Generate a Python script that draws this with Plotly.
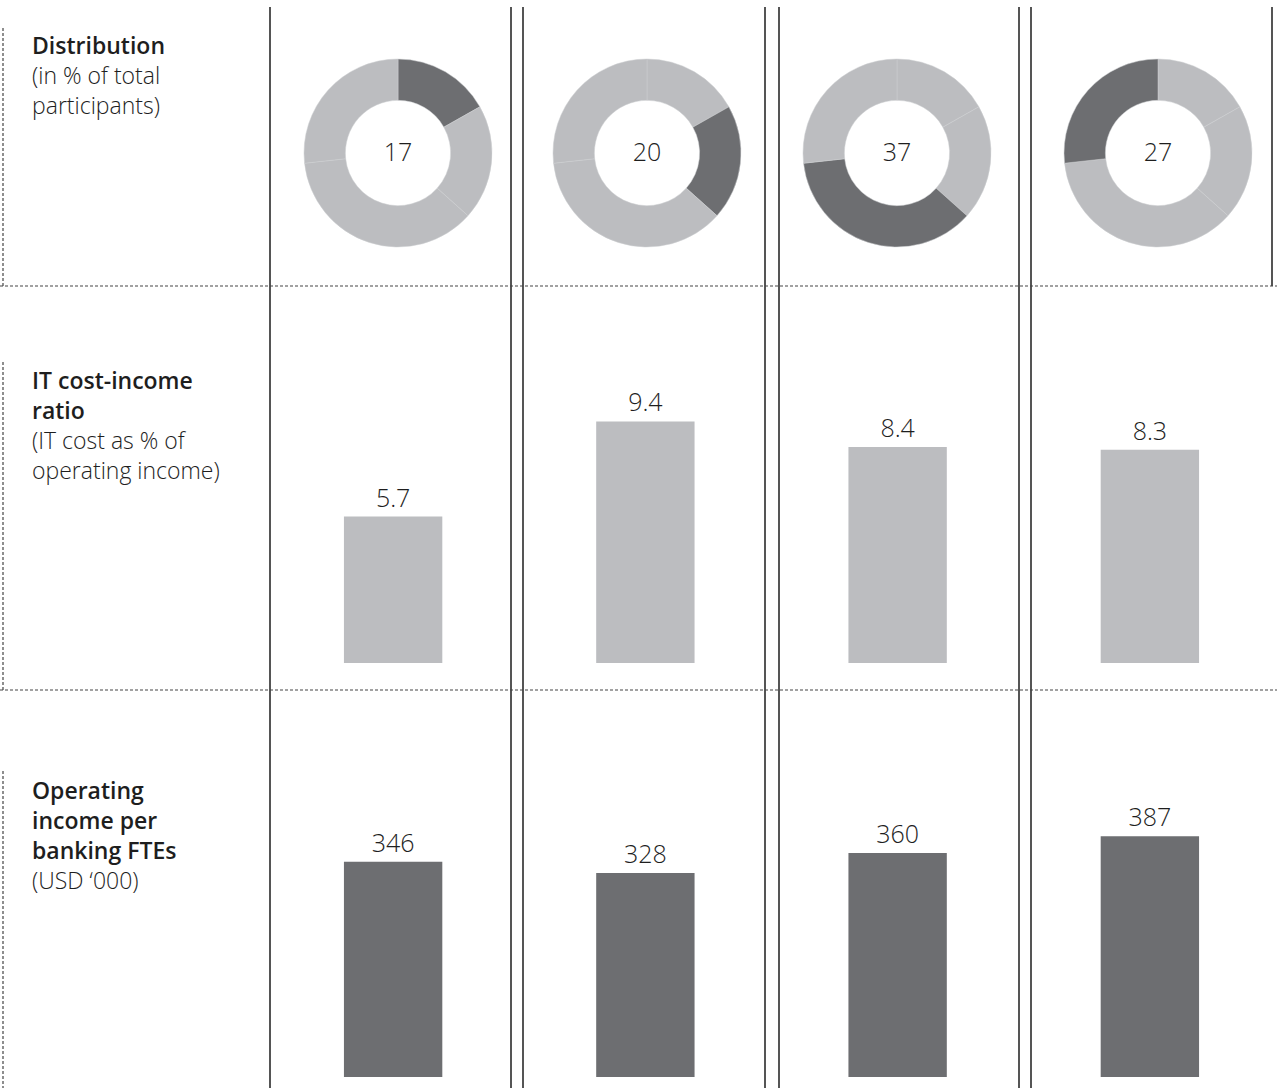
import plotly.graph_objects as go

W, H = 1277, 1088

# ---- data -------------------------------------------------------------
groups = ["Group 1", "Group 2", "Group 3", "Group 4"]
distribution = [17, 20, 37, 27]          # % of total participants
it_cost_income = [5.7, 9.4, 8.4, 8.3]    # IT cost as % of operating income
income_per_fte = [346, 328, 360, 387]    # USD '000

row_titles = ["Distribution", "IT cost-income<br>ratio", "Operating<br>income per<br>banking FTEs"]
row_notes = ["(in % of total<br>participants)", "(IT cost as % of<br>operating income)", "(USD ‘000)"]

# ---- styling ----------------------------------------------------------
DARK = "#6d6e71"
LIGHT = "#bcbdc0"
INK = "#1e1e1e"
RULE = "#555555"
FONT = "Open Sans"


def px(x):
    return x / W


def py(y):
    return 1 - y / H


fig = go.Figure()

# ---- donuts: each shows the full split with its own group highlighted --
donut_cx = [398, 647, 897, 1158]
donut_cy = 153
donut_r = 94
for i, cx in enumerate(donut_cx):
    colors = [DARK if j == i else LIGHT for j in range(len(distribution))]
    fig.add_trace(go.Pie(
        values=distribution,
        labels=groups,
        sort=False,
        direction="clockwise",
        rotation=0,
        hole=0.56,
        marker=dict(colors=colors, line=dict(color="#cdced0", width=0.5)),
        textinfo="none",
        hoverinfo="label+value",
        showlegend=False,
        domain=dict(x=[px(cx - donut_r), px(cx + donut_r)],
                    y=[py(donut_cy + donut_r), py(donut_cy - donut_r)]),
        title=dict(text=str(distribution[i]), position="middle center",
                   font=dict(family=FONT, size=25, color=INK, weight=300)),
    ))

# ---- bar rows ---------------------------------------------------------
x_domain = [px(267), px(1276)]

fig.add_trace(go.Bar(
    x=groups, y=it_cost_income, xaxis="x", yaxis="y",
    marker=dict(color=LIGHT, line=dict(width=0)),
    text=[f"{v:.1f}" for v in it_cost_income], textposition="outside",
    textfont=dict(family=FONT, size=25, color=INK, weight=300),
    cliponaxis=False, showlegend=False, hoverinfo="x+y",
))
fig.add_trace(go.Bar(
    x=groups, y=income_per_fte, xaxis="x2", yaxis="y2",
    marker=dict(color=DARK, line=dict(width=0)),
    text=[str(v) for v in income_per_fte], textposition="outside",
    textfont=dict(family=FONT, size=25, color=INK, weight=300),
    cliponaxis=False, showlegend=False, hoverinfo="x+y",
))

axis_off = dict(showgrid=False, zeroline=False, showline=False,
                showticklabels=False, ticks="", fixedrange=True)

# ---- rules ------------------------------------------------------------
shapes = []
solid = dict(color=RULE, width=2)
for x in [270, 511, 523, 765, 779, 1019, 1031]:
    shapes.append(dict(type="line", xref="paper", yref="paper",
                       x0=px(x), x1=px(x), y0=py(7), y1=py(H), line=solid))
shapes.append(dict(type="line", xref="paper", yref="paper",
                   x0=px(1272), x1=px(1272), y0=py(7), y1=py(286), line=solid))

dotted = dict(color="#444444", width=1.2, dash="3px,2px")
for y in [286, 690]:
    shapes.append(dict(type="line", xref="paper", yref="paper",
                       x0=0, x1=1, y0=py(y), y1=py(y), line=dotted))
for y0, y1 in [(28, 286), (362, 690), (771, H)]:
    shapes.append(dict(type="line", xref="paper", yref="paper",
                       x0=px(3), x1=px(3), y0=py(y0), y1=py(y1), line=dotted))

# ---- row labels -------------------------------------------------------
annotations = []
label_tops = [27, 362, 772]
for title, note, top in zip(row_titles, row_notes, label_tops):
    text = (f"<span style='font-weight:600'>{title}</span><br>"
            f"<span style='font-weight:300'>{note}</span>")
    annotations.append(dict(
        text=text, xref="paper", yref="paper", x=px(30), y=py(top),
        xanchor="left", yanchor="top", align="left", showarrow=False,
        font=dict(family=FONT, size=23, color=INK),
    ))

fig.update_layout(
    width=W, height=H,
    margin=dict(l=0, r=0, t=0, b=0),
    paper_bgcolor="white", plot_bgcolor="white",
    font=dict(family=FONT, color=INK),
    bargap=0.61,
    xaxis=dict(domain=x_domain, anchor="y", **axis_off),
    yaxis=dict(domain=[py(663), py(300)], range=[0, 363 / 25.7], anchor="x", **axis_off),
    xaxis2=dict(domain=x_domain, anchor="y2", **axis_off),
    yaxis2=dict(domain=[py(1077), py(700)], range=[0, 377 / 0.622], anchor="x2", **axis_off),
    shapes=shapes,
    annotations=annotations,
)

fig.write_html("out.html")
